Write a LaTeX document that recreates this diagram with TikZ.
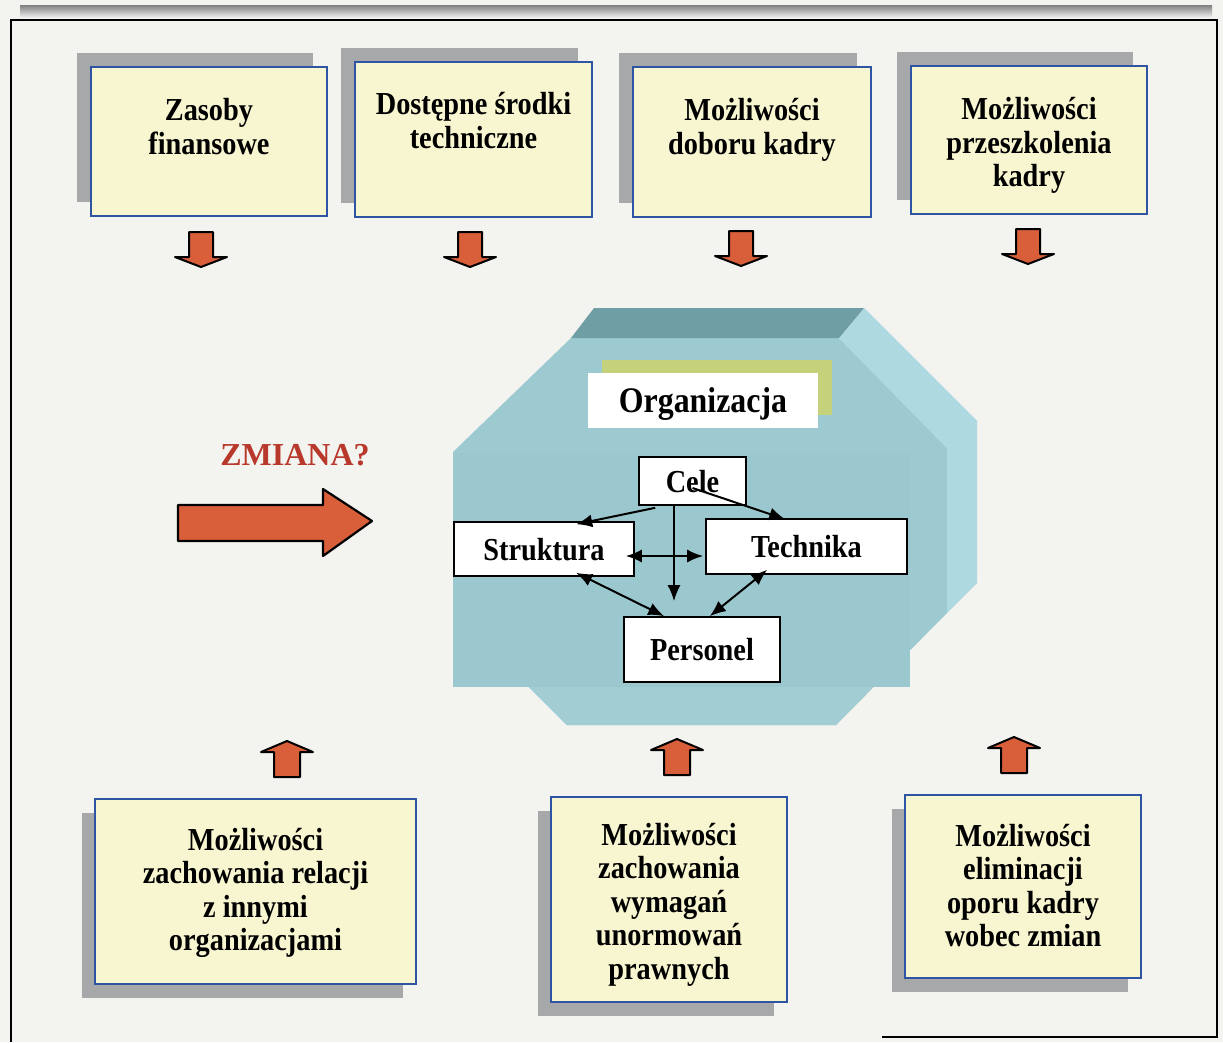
\documentclass[tikz,border=0pt]{standalone}
\usepackage{fontspec}
\setmainfont{Liberation Serif}[FakeStretch=0.885]
\newfontfamily\widefont{Liberation Serif}[FakeStretch=1.0]
\usetikzlibrary{arrows.meta,calc,shadows}

\definecolor{paper}{HTML}{F3F3F0}
\definecolor{boxfill}{HTML}{F8F6D0}
\definecolor{boxline}{HTML}{2E55A4}
\definecolor{shade}{HTML}{A7A8AA}
\definecolor{blockred}{HTML}{D95F3B}
\definecolor{tealfront}{HTML}{9DCAD1}
\definecolor{tealinner}{HTML}{9BC8CF}
\definecolor{tealtop}{HTML}{6F9FA5}
\definecolor{tealside}{HTML}{AED9E0}
\definecolor{tealbottom}{HTML}{A2CDD3}
\definecolor{olive}{HTML}{C6D27B}
\definecolor{zmiana}{HTML}{B8392B}

\newcommand{\lnstrut}{\rule{0pt}{28pt}}

\tikzset{
  lbl/.style={font=\fontsize{32}{33.5}\selectfont\bfseries, align=center,
    inner sep=0pt, anchor=north},
  factorup/.style={draw=boxline, line width=1.4pt, fill=boxfill,
    drop shadow={shadow xshift=-14pt, shadow yshift=14pt, fill=shade, opacity=1}},
  factordown/.style={draw=boxline, line width=1.4pt, fill=boxfill,
    drop shadow={shadow xshift=-13pt, shadow yshift=-14pt, fill=shade, opacity=1}},
  inbox/.style={draw=black, line width=1.6pt, fill=white, inner sep=0pt,
    font=\fontsize{32}{34}\selectfont\bfseries, text height=22pt, text depth=0pt},
  link/.style={line width=2pt, -{Latex[length=16pt,width=13pt]}},
  blink/.style={line width=2pt,
    {Latex[length=16pt,width=13pt]}-{Latex[length=16pt,width=13pt]}},
  block/.style={fill=blockred, draw=black, line width=2pt, line join=round},
  downblock/.pic={\draw[block] (-12,-25) -- (12,-25) -- (12,0) -- (26,0)
    -- (0,10) -- (-26,0) -- (-12,0) -- cycle;},
  upblock/.pic={\draw[block] (-13,25) -- (13,25) -- (13,0) -- (26,0)
    -- (0,-11) -- (-26,0) -- (-13,0) -- cycle;},
}

\begin{document}
\begin{tikzpicture}[x=1pt,y=-1pt]
  % page and frame
  \fill[paper] (0,0) rectangle (1223,1042);
  \useasboundingbox (0,0) rectangle (1223,1042);
  \fill[shade] (20,5) rectangle (1212,19);
  \draw[line width=2.5pt] (11,1042) -- (11,20) -- (1217,20) -- (1217,1037) -- (882,1037);

  % top factors
  \node[factorup, minimum width=236, minimum height=149] (f1) at (209,141.5) {};
  \node[factorup, minimum width=237, minimum height=155] (f2) at (473.5,139.5) {};
  \node[factorup, minimum width=238, minimum height=150] (f3) at (752,142) {};
  \node[factorup, minimum width=236, minimum height=148] (f4) at (1029,140) {};
  \node[lbl] (f1t) at ($(f1.north)+(0,26)$) {\lnstrut Zasoby\\finansowe};
  \node[lbl] (f2t) at ($(f2.north)+(0,25)$) {\lnstrut Dostępne środki\\techniczne};
  \node[lbl] (f3t) at ($(f3.north)+(0,26)$) {\lnstrut Możliwości\\doboru kadry};
  \node[lbl] (f4t) at ($(f4.north)+(0,26)$) {\lnstrut Możliwości\\przeszkolenia\\kadry};

  % block arrows pointing down
  \pic (d1) at (201,257) {downblock};
  \pic (d2) at (470,257) {downblock};
  \pic (d3) at (741,256) {downblock};
  \pic (d4) at (1028,254) {downblock};

  % organisation prism
  \fill[tealfront] (571,338) -- (839,338) -- (947,448) -- (947,613) -- (836,725)
    -- (567,725) -- (453,612) -- (453,452) -- cycle;
  \fill[tealinner] (453,453) rectangle (910,687);
  \fill[tealbottom] (529,687) -- (873,687) -- (836,725) -- (567,725) -- cycle;
  \fill[tealside] (864,308) -- (977,421) -- (977,583) -- (947,613) -- (947,448)
    -- (839,338) -- cycle;
  \fill[tealtop] (594,308) -- (864,308) -- (839,338) -- (571,338) -- cycle;

  \node[fill=white, minimum width=230, minimum height=55, inner sep=0pt,
    drop shadow={shadow xshift=14pt, shadow yshift=13pt, fill=olive, opacity=1},
    font=\fontsize{36}{40}\selectfont\bfseries, text height=24pt, text depth=0pt]
    (org) at (703,400.5) {Organizacja};

  \node[inbox, minimum width=107, minimum height=48] (cele) at (692.5,481) {Cele};
  \node[inbox, minimum width=180, minimum height=54] (struktura) at (544,549) {Struktura};
  \node[inbox, minimum width=201, minimum height=55] (technika) at (806.5,546.5) {Technika};
  \node[inbox, minimum width=156, minimum height=65] (personel) at (702,649.5) {Personel};

  \draw[link] ($(cele.south west)+(17,2)$) -- ($(struktura.north west)+(123,3)$);
  \draw[link] ($(cele.center)+(0,7)$) -- ($(technika.north west)+(80,1)$);
  \draw[link] ($(cele.south)+(-18.5,0)$) -- ($(personel.north)+(-28,-15)$);
  \draw[blink] ($(struktura.east)+(-9,7)$) -- ($(technika.west)+(-2,9.5)$);
  \draw[blink] ($(struktura.south west)+(123,-4)$) -- ($(personel.north west)+(41,0)$);
  \draw[blink] ($(technika.south west)+(62,-5)$) -- ($(personel.north east)+(-71,0)$);

  % change arrow
  \node[font=\widefont\fontsize{32}{34}\selectfont\bfseries, text=zmiana] (zm)
    at (295,455) {ZMIANA?};
  \draw[block, line width=2.2pt] (178,505) -- (323,505) -- (323,489) -- (372,521)
    -- (323,556) -- (323,541) -- (178,541) -- cycle;

  % block arrows pointing up
  \pic (u1) at (287,752) {upblock};
  \pic (u2) at (677,750) {upblock};
  \pic (u3) at (1014,748) {upblock};

  % bottom factors
  \node[factordown, minimum width=321, minimum height=185] (b1) at (255.5,891.5) {};
  \node[factordown, minimum width=236, minimum height=205] (b2) at (669,899.5) {};
  \node[factordown, minimum width=236, minimum height=183] (b3) at (1023,886.5) {};
  \node[lbl] (b1t) at ($(b1.north)+(0,23.5)$) {\lnstrut Możliwości\\zachowania relacji\\z innymi\\organizacjami};
  \node[lbl] (b2t) at ($(b2.north)+(0,20.5)$) {\lnstrut Możliwości\\zachowania\\wymagań\\unormowań\\prawnych};
  \node[lbl] (b3t) at ($(b3.north)+(0,23.5)$) {\lnstrut Możliwości\\eliminacji\\oporu kadry\\wobec zmian};
\end{tikzpicture}
\end{document}
